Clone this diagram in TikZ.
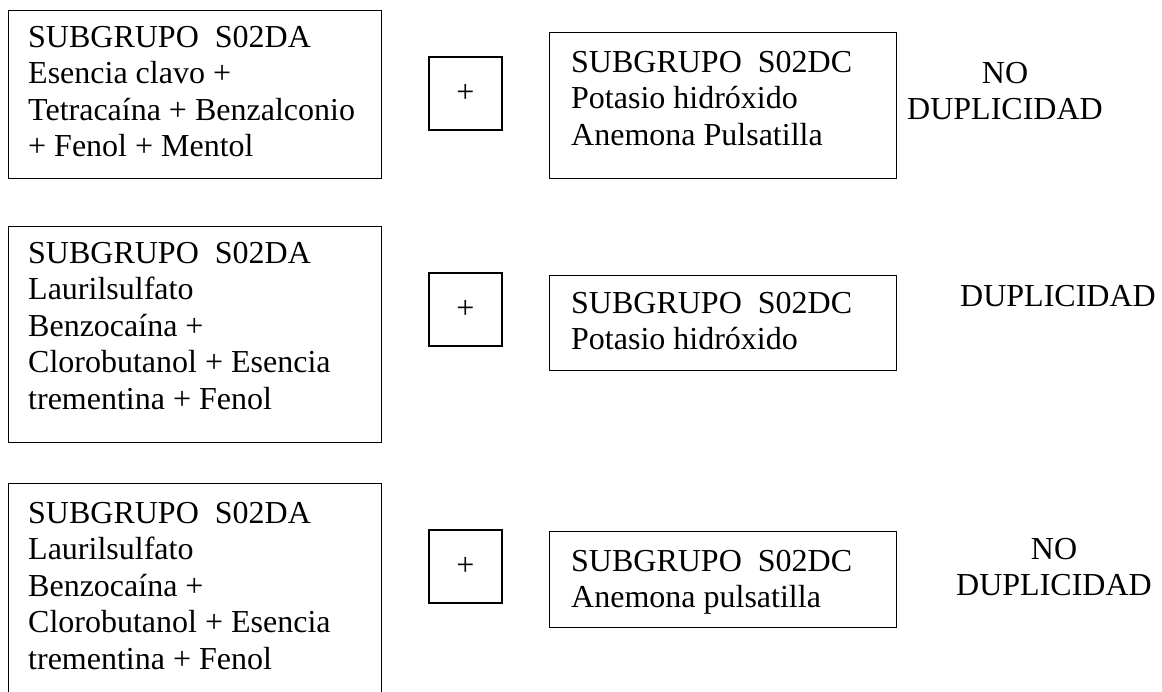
\documentclass[tikz,border=0pt]{standalone}
\usepackage{fontspec}
\setmainfont{Liberation Serif}
\begin{document}
\begin{tikzpicture}[x=1pt,y=-1pt,
  box/.style={draw, line width=1.3pt, inner sep=0pt, anchor=north west},
  txt/.style={anchor=north west, inner sep=0pt, align=left, font=\fontsize{32}{36.5}\selectfont},
  res/.style={anchor=north, inner sep=0pt, align=center, font=\fontsize{32}{36.5}\selectfont},
  plusbox/.style={draw, line width=1.3pt, minimum width=73pt, minimum height=73pt, inner sep=0pt, font=\fontsize{32}{34}\selectfont}]
\useasboundingbox (0,0) rectangle (1162,691);
\clip (0,0) rectangle (1162,691);
% row 1
\node[box, minimum width=373pt, minimum height=168pt] (a1) at (8,10) {};
\node[txt] (a1t) at (28,26) {SUBGRUPO\ \ S02DA\\Esencia clavo +\\Tetracaína + Benzalconio\\+ Fenol + Mentol};
\node[plusbox] (p1) at (465.5,93.5) {+};
\node[box, minimum width=347pt, minimum height=146pt] (b1) at (549,32) {};
\node[txt] (b1t) at (571,51) {SUBGRUPO\ \ S02DC\\Potasio hidróxido\\Anemona Pulsatilla};
\node[res] (r1) at (1005,62) {NO\\DUPLICIDAD};
% row 2
\node[box, minimum width=373pt, minimum height=216pt] (a2) at (8,226) {};
\node[txt] (a2t) at (28,242) {SUBGRUPO\ \ S02DA\\Laurilsulfato\\Benzocaína +\\Clorobutanol + Esencia\\trementina + Fenol};
\node[plusbox] (p2) at (465.5,309.5) {+};
\node[box, minimum width=347pt, minimum height=95pt] (b2) at (549,275) {};
\node[txt] (b2t) at (571,292) {SUBGRUPO\ \ S02DC\\Potasio hidróxido};
\node[res] (r2) at (1058,285) {DUPLICIDAD};
% row 3
\node[box, minimum width=373pt, minimum height=230pt] (a3) at (8,483) {};
\node[txt] (a3t) at (28,502) {SUBGRUPO\ \ S02DA\\Laurilsulfato\\Benzocaína +\\Clorobutanol + Esencia\\trementina + Fenol};
\node[plusbox] (p3) at (465.5,566.5) {+};
\node[box, minimum width=347pt, minimum height=96pt] (b3) at (549,531) {};
\node[txt] (b3t) at (571,550) {SUBGRUPO\ \ S02DC\\Anemona pulsatilla};
\node[res] (r3) at (1054,538) {NO\\DUPLICIDAD};
\end{tikzpicture}
\end{document}
